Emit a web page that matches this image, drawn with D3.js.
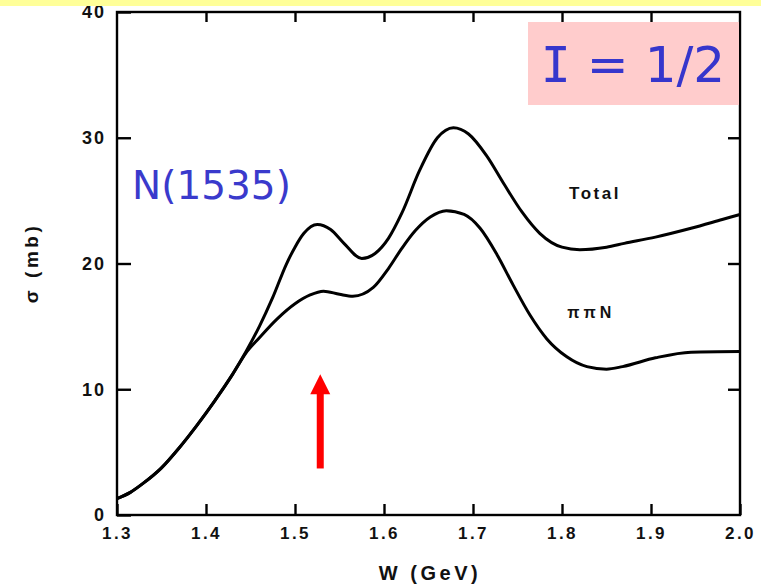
<!DOCTYPE html>
<html>
<head>
<meta charset="utf-8">
<script src="https://cdn.jsdelivr.net/npm/d3@7"></script>
<style>
  html, body { margin: 0; padding: 0; background: #ffffff; }
  svg { display: block; }
  .scan { font-family: "Liberation Sans", Arial, sans-serif; font-weight: bold; fill: #111; }
</style>
</head>
<body>
<svg id="chart" width="761" height="585"></svg>
<script>
// Shared rising edge of both cross sections (W in GeV, sigma in mb)
const wLow = [1.30, 1.315, 1.33, 1.35, 1.37, 1.39, 1.41, 1.43];
const sigmaLow = [1.3, 1.8, 2.55, 3.75, 5.35, 7.15, 9.1, 11.2];

// Total cross section above the split point
const wTotal = [1.445, 1.46, 1.475, 1.49, 1.50, 1.51, 1.525, 1.54, 1.555, 1.575, 1.59, 1.605, 1.62, 1.64,
                1.66, 1.678, 1.695, 1.715, 1.735, 1.755, 1.775, 1.80, 1.82, 1.85, 1.87, 1.905, 1.945, 1.98, 2.00];
const sigmaTotal = [13.0, 15.0, 17.3, 19.9, 21.3, 22.4, 23.1, 22.7, 21.6, 20.4, 20.8, 22.0, 24.0, 27.4,
                    30.0, 30.8, 30.3, 28.6, 26.3, 24.1, 22.4, 21.3, 21.1, 21.3, 21.6, 22.1, 22.8, 23.5, 23.9];

// pi pi N channel above the split point
const wPiPiN = [1.445, 1.46, 1.48, 1.50, 1.517, 1.532, 1.55, 1.565, 1.588, 1.605, 1.62, 1.635, 1.652, 1.67,
                1.69, 1.708, 1.727, 1.745, 1.764, 1.783, 1.805, 1.828, 1.85, 1.868, 1.905, 1.945, 2.00];
const sigmaPiPiN = [12.9, 14.1, 15.6, 16.8, 17.5, 17.8, 17.55, 17.4, 18.1, 19.6, 21.2, 22.6, 23.7, 24.2,
                    23.9, 22.8, 20.7, 18.3, 15.9, 14.0, 12.6, 11.8, 11.6, 11.8, 12.5, 12.95, 13.0];

const xTicks = [1.3, 1.4, 1.5, 1.6, 1.7, 1.8, 1.9, 2.0];
const xTickLabels = ["1.3", "1.4", "1.5", "1.6", "1.7", "1.8", "1.9", "2.0"];
const yTicks = [0, 10, 20, 30, 40];
const yTickLabels = ["0", "10", "20", "30", "40"];

const resonanceW = 1.525;   // N(1535) marker position
const resonanceTip = 11.2;  // arrow tip (mb)
const resonanceTail = 3.7;  // arrow tail (mb)

const svg = d3.select("#chart");
const x = d3.scaleLinear().domain([1.3, 2.0]).range([117, 740]);
const y = d3.scaleLinear().domain([0, 40]).range([515, 12]);

// Frame
svg.append("rect")
  .attr("x", x(1.3)).attr("y", y(40))
  .attr("width", x(2.0) - x(1.3)).attr("height", y(0) - y(40))
  .attr("fill", "none").attr("stroke", "#000").attr("stroke-width", 2.4);

// Axes with inward ticks
const styleAxis = g => {
  g.select(".domain").remove();
  g.selectAll(".tick line").attr("stroke", "#000").attr("stroke-width", 2.4);
  g.selectAll(".tick text").attr("class", "scan").attr("fill", "#111")
    .style("font-family", "'Liberation Sans', Arial, sans-serif")
    .style("font-weight", "bold");
};

svg.append("g").attr("transform", `translate(0,${y(0)})`)
  .call(d3.axisBottom(x).tickValues(xTicks).tickFormat((d, i) => xTickLabels[i])
    .tickSize(-11).tickPadding(12))
  .call(styleAxis)
  .call(g => g.selectAll(".tick text").style("font-size", "17px").attr("letter-spacing", "2.5px"));

svg.append("g").attr("transform", `translate(0,${y(40)})`)
  .call(d3.axisTop(x).tickValues(xTicks.slice(1, -1)).tickFormat("").tickSize(-10))
  .call(styleAxis);

svg.append("g").attr("transform", `translate(${x(1.3)},0)`)
  .call(d3.axisLeft(y).tickValues(yTicks).tickFormat((d, i) => yTickLabels[i])
    .tickSize(-14).tickPadding(11))
  .call(styleAxis)
  .call(g => g.selectAll(".tick text").style("font-size", "18px").attr("letter-spacing", "2px"));

svg.append("g").attr("transform", `translate(${x(2.0)},0)`)
  .call(d3.axisRight(y).tickValues(yTicks.slice(1, -1)).tickFormat("").tickSize(-12))
  .call(styleAxis);

// Curves
const line = d3.line()
  .x(d => x(d[0])).y(d => y(d[1]))
  .curve(d3.curveMonotoneX);

const low = wLow.map((w, i) => [w, sigmaLow[i]]);
const total = low.concat(wTotal.map((w, i) => [w, sigmaTotal[i]]));
const pipin = low.concat(wPiPiN.map((w, i) => [w, sigmaPiPiN[i]]));

[total, pipin].forEach(data => {
  svg.append("path").datum(data)
    .attr("d", line)
    .attr("fill", "none").attr("stroke", "#000")
    .attr("stroke-width", 3).attr("stroke-linejoin", "round");
});

// Curve labels
svg.append("text").attr("class", "scan")
  .attr("x", x(1.808)).attr("y", y(25.1))
  .attr("font-size", 17).attr("letter-spacing", "2.5px").text("Total");
svg.append("text").attr("class", "scan")
  .attr("x", x(1.806)).attr("y", y(15.7))
  .attr("font-size", 16).attr("letter-spacing", "4px").text("ππN");

// Axis titles
svg.append("text").attr("class", "scan")
  .attr("x", 430).attr("y", 580).attr("text-anchor", "middle")
  .attr("font-size", 20).attr("letter-spacing", "3.5px").text("W (GeV)");
svg.append("text").attr("class", "scan")
  .attr("transform", "translate(38,263) rotate(-90)").attr("text-anchor", "middle")
  .attr("font-size", 19).attr("letter-spacing", "3.5px").text("σ (mb)");

// Isospin badge
svg.append("rect")
  .attr("x", 528).attr("y", 22).attr("width", 211).attr("height", 83)
  .attr("fill", "#ffcccc");
const badge = svg.append("text")
  .attr("x", 633).attr("y", 82).attr("text-anchor", "middle")
  .attr("font-family", "'DejaVu Sans', sans-serif").attr("font-size", 50)
  .attr("fill", "#3636cc");
badge.append("tspan").attr("font-family", "'DejaVu Sans Mono', monospace").text("I");
badge.append("tspan").text(" = 1/2");

// Resonance annotation
svg.append("text")
  .attr("x", 132).attr("y", 199)
  .attr("font-family", "'DejaVu Sans', sans-serif").attr("font-size", 39)
  .attr("fill", "#3a3acc").text("N(1535)");

const ax = x(resonanceW) + 3;
svg.append("line")
  .attr("x1", ax).attr("x2", ax)
  .attr("y1", y(resonanceTail)).attr("y2", y(resonanceTip) + 18)
  .attr("stroke", "#ff0000").attr("stroke-width", 7);
svg.append("path")
  .attr("d", `M${ax - 10},${y(resonanceTip) + 20} L${ax},${y(resonanceTip)} L${ax + 10},${y(resonanceTip) + 20} Z`)
  .attr("fill", "#ff0000");

// Top highlight band
svg.append("rect")
  .attr("x", 0).attr("y", 0).attr("width", 761).attr("height", 6)
  .attr("fill", "#ffff99");
</script>
</body>
</html>
